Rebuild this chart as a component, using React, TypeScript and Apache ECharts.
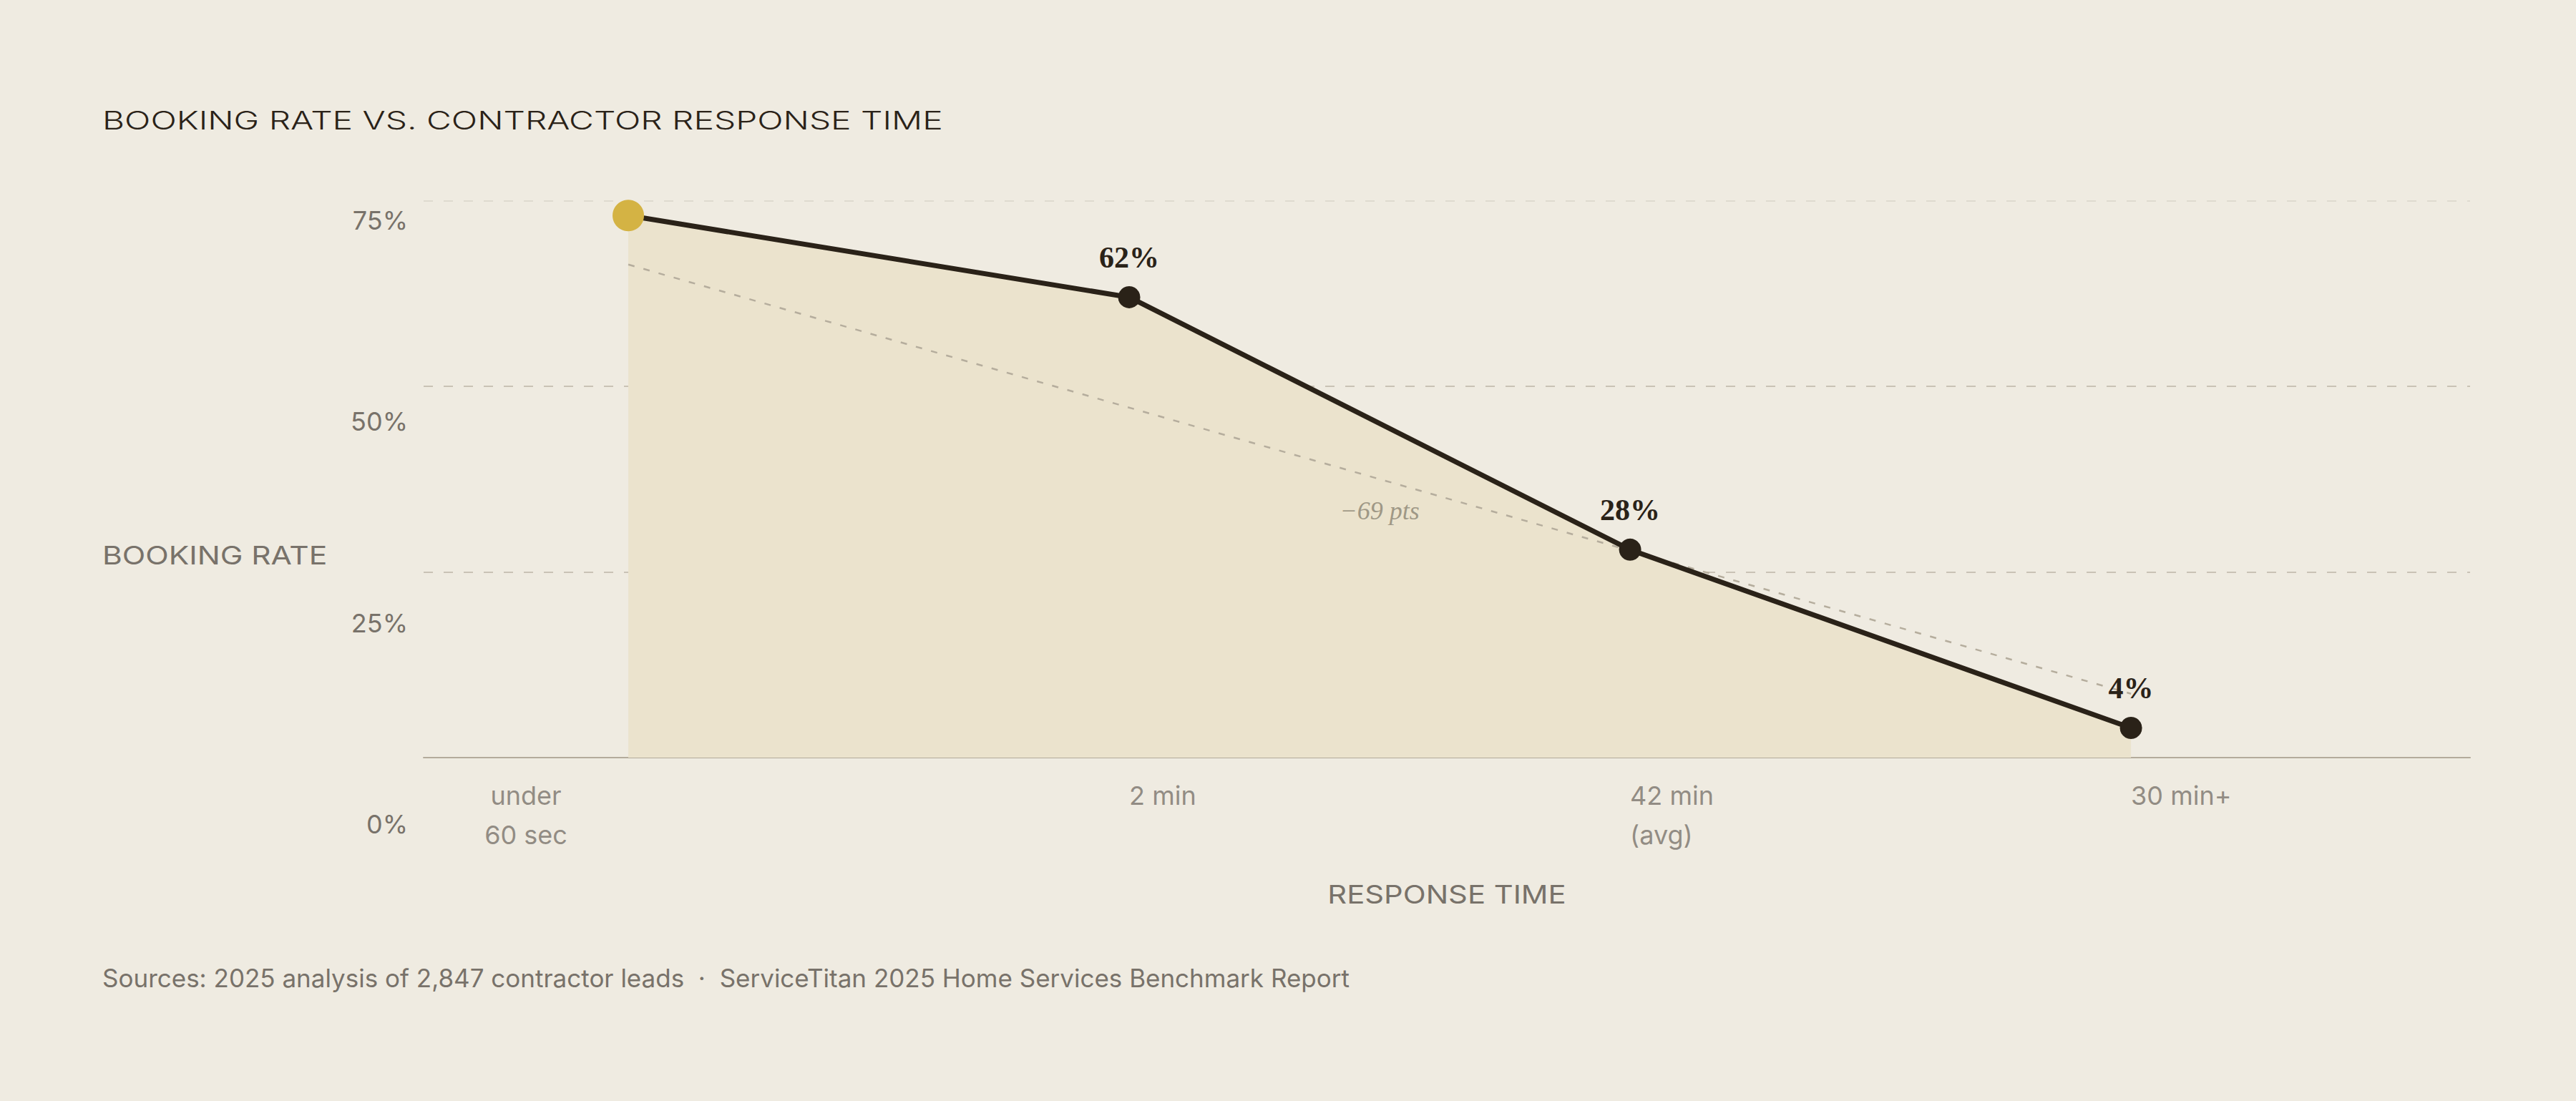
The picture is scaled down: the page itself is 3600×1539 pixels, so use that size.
import { useEffect, useRef } from 'react';
import * as echarts from 'echarts';

// response-time buckets and booking rate (%)
const categories = ['under\n60 sec', '2 min', '42 min\n(avg)', '30 min+'];
const bookingRate = [73, 62, 28, 4];
// dashed guide line (start / end value at first and last bucket)
const trendStart = 66.4;
const trendEnd = 8.6;
const dropText = '−69 pts';
const yTicks = [0, 25, 50, 75];

const INK = '#2a2218';
const GREY = '#78726a';
const SANS = 'Inter, "DejaVu Sans", sans-serif';
const SERIF = '"Liberation Serif", "DejaVu Serif", serif';

export default function App() {
  const ref = useRef<HTMLDivElement>(null);

  useEffect(() => {
    if (!ref.current) return;
    const chart = echarts.init(ref.current, null, { renderer: 'svg' });
    const last = categories.length - 1;
    const yMax = yTicks[yTicks.length - 1];

    const option = {
      animation: false,
      backgroundColor: '#efebe1',
      grid: [
        { left: 592, right: 148, top: 280.5, bottom: 480 },
        // label-only grid, the tick texts sit on their own spacing
        { left: 592, width: 10, top: 307.6, bottom: 387 },
      ],
      xAxis: [
        {
          type: 'value',
          gridIndex: 0,
          min: -0.4086,
          max: 3.677,
          axisLabel: { show: false },
          axisTick: { show: false },
          splitLine: { show: false },
          axisLine: { show: true, lineStyle: { color: '#b3ab9b', width: 2 } },
        },
        { type: 'value', gridIndex: 1, show: false, min: 0, max: 1 },
      ],
      yAxis: [
        {
          type: 'value',
          gridIndex: 0,
          min: 0,
          max: yMax,
          interval: 25,
          axisLabel: { show: false },
          axisTick: { show: false },
          axisLine: { show: false },
          splitLine: {
            show: true,
            lineStyle: {
              color: ['#c9c2b5', '#c9c2b5', '#c9c2b5', '#dedacf'],
              width: 2,
              type: [13, 15],
            },
          },
        },
        {
          type: 'value',
          gridIndex: 1,
          min: 0,
          max: yMax,
          interval: 25,
          axisTick: { show: false },
          axisLine: { show: false },
          splitLine: { show: false },
          axisLabel: {
            color: GREY,
            fontSize: 36,
            fontFamily: SANS,
            margin: 22,
            formatter: (v: number) => `${v}%`,
          },
        },
      ],
      series: [
        {
          name: 'area',
          type: 'line',
          z: 1,
          silent: true,
          symbol: 'none',
          lineStyle: { width: 0 },
          areaStyle: { color: '#ebe3cd', opacity: 1 },
          data: bookingRate.map((v, i) => [i, v]),
        },
        {
          name: 'trend',
          type: 'line',
          z: 2,
          silent: true,
          symbol: 'none',
          lineStyle: { color: '#b5ad9d', width: 2.5, type: [9, 13] },
          data: [
            [0, trendStart],
            [last, trendEnd],
          ],
        },
        {
          name: 'drop',
          type: 'scatter',
          z: 2,
          symbolSize: 0,
          data: [[last / 2, (trendStart + trendEnd) / 2 - 4.3]],
          label: {
            show: true,
            position: 'inside',
            formatter: dropText,
            color: '#8a8373',
            fontSize: 36,
            fontStyle: 'italic',
            fontFamily: SERIF,
          },
        },
        {
          name: 'Booking rate',
          type: 'line',
          z: 3,
          symbol: 'circle',
          symbolSize: 31,
          lineStyle: { color: INK, width: 7 },
          itemStyle: { color: INK },
          label: {
            show: true,
            position: 'top',
            distance: 19,
            color: INK,
            fontSize: 42,
            fontWeight: 'bold',
            fontFamily: SERIF,
            formatter: (p: any) => `${p.value[1]}%`,
          },
          data: bookingRate.map((v, i) =>
            i === 0
              ? {
                  value: [i, v],
                  symbolSize: 44,
                  itemStyle: { color: '#d4b344' },
                  label: { show: false },
                }
              : { value: [i, v] }
          ),
        },
        {
          name: 'categories',
          type: 'scatter',
          z: 4,
          silent: true,
          symbolSize: 0,
          data: categories.map((c, i) => ({
            value: [i, 0],
            name: c,
            label:
              i === 0
                ? { align: 'center', offset: [-143, 0] }
                : { align: 'left' },
          })),
          label: {
            show: true,
            position: 'bottom',
            distance: 25,
            formatter: (p: any) => p.name,
            color: GREY,
            fontSize: 36,
            lineHeight: 55,
            fontFamily: SANS,
          },
        },
      ],
      graphic: [
        {
          // letter-spaced title: widen the glyph run instead
          type: 'text',
          x: 143,
          y: 168,
          scaleX: 1.33,
          style: {
            text: 'BOOKING RATE VS. CONTRACTOR RESPONSE TIME',
            fill: INK,
            fontSize: 36,
            fontWeight: 300,
            fontFamily: SANS,
            verticalAlign: 'middle',
          },
        },
        {
          type: 'text',
          x: 143,
          y: 776,
          scaleX: 1.18,
          style: {
            text: 'BOOKING RATE',
            fill: GREY,
            fontSize: 36,
            fontFamily: SANS,
            verticalAlign: 'middle',
          },
        },
        {
          type: 'text',
          x: 2022,
          y: 1250,
          scaleX: 1.16,
          style: {
            text: 'RESPONSE TIME',
            fill: GREY,
            fontSize: 36,
            fontFamily: SANS,
            align: 'center',
            verticalAlign: 'middle',
          },
        },
        {
          type: 'text',
          x: 143,
          y: 1367,
          style: {
            text: 'Sources: 2025 analysis of 2,847 contractor leads  ·  ServiceTitan 2025 Home Services Benchmark Report',
            fill: GREY,
            fontSize: 35,
            fontFamily: SANS,
            verticalAlign: 'middle',
          },
        },
      ],
    };

    chart.setOption(option);
    return () => {
      chart.dispose();
    };
  }, []);

  return (
    <div
      ref={ref}
      style={{ position: 'fixed', left: 0, top: 0, width: 3600, height: 1539 }}
    ></div>
  );
}
